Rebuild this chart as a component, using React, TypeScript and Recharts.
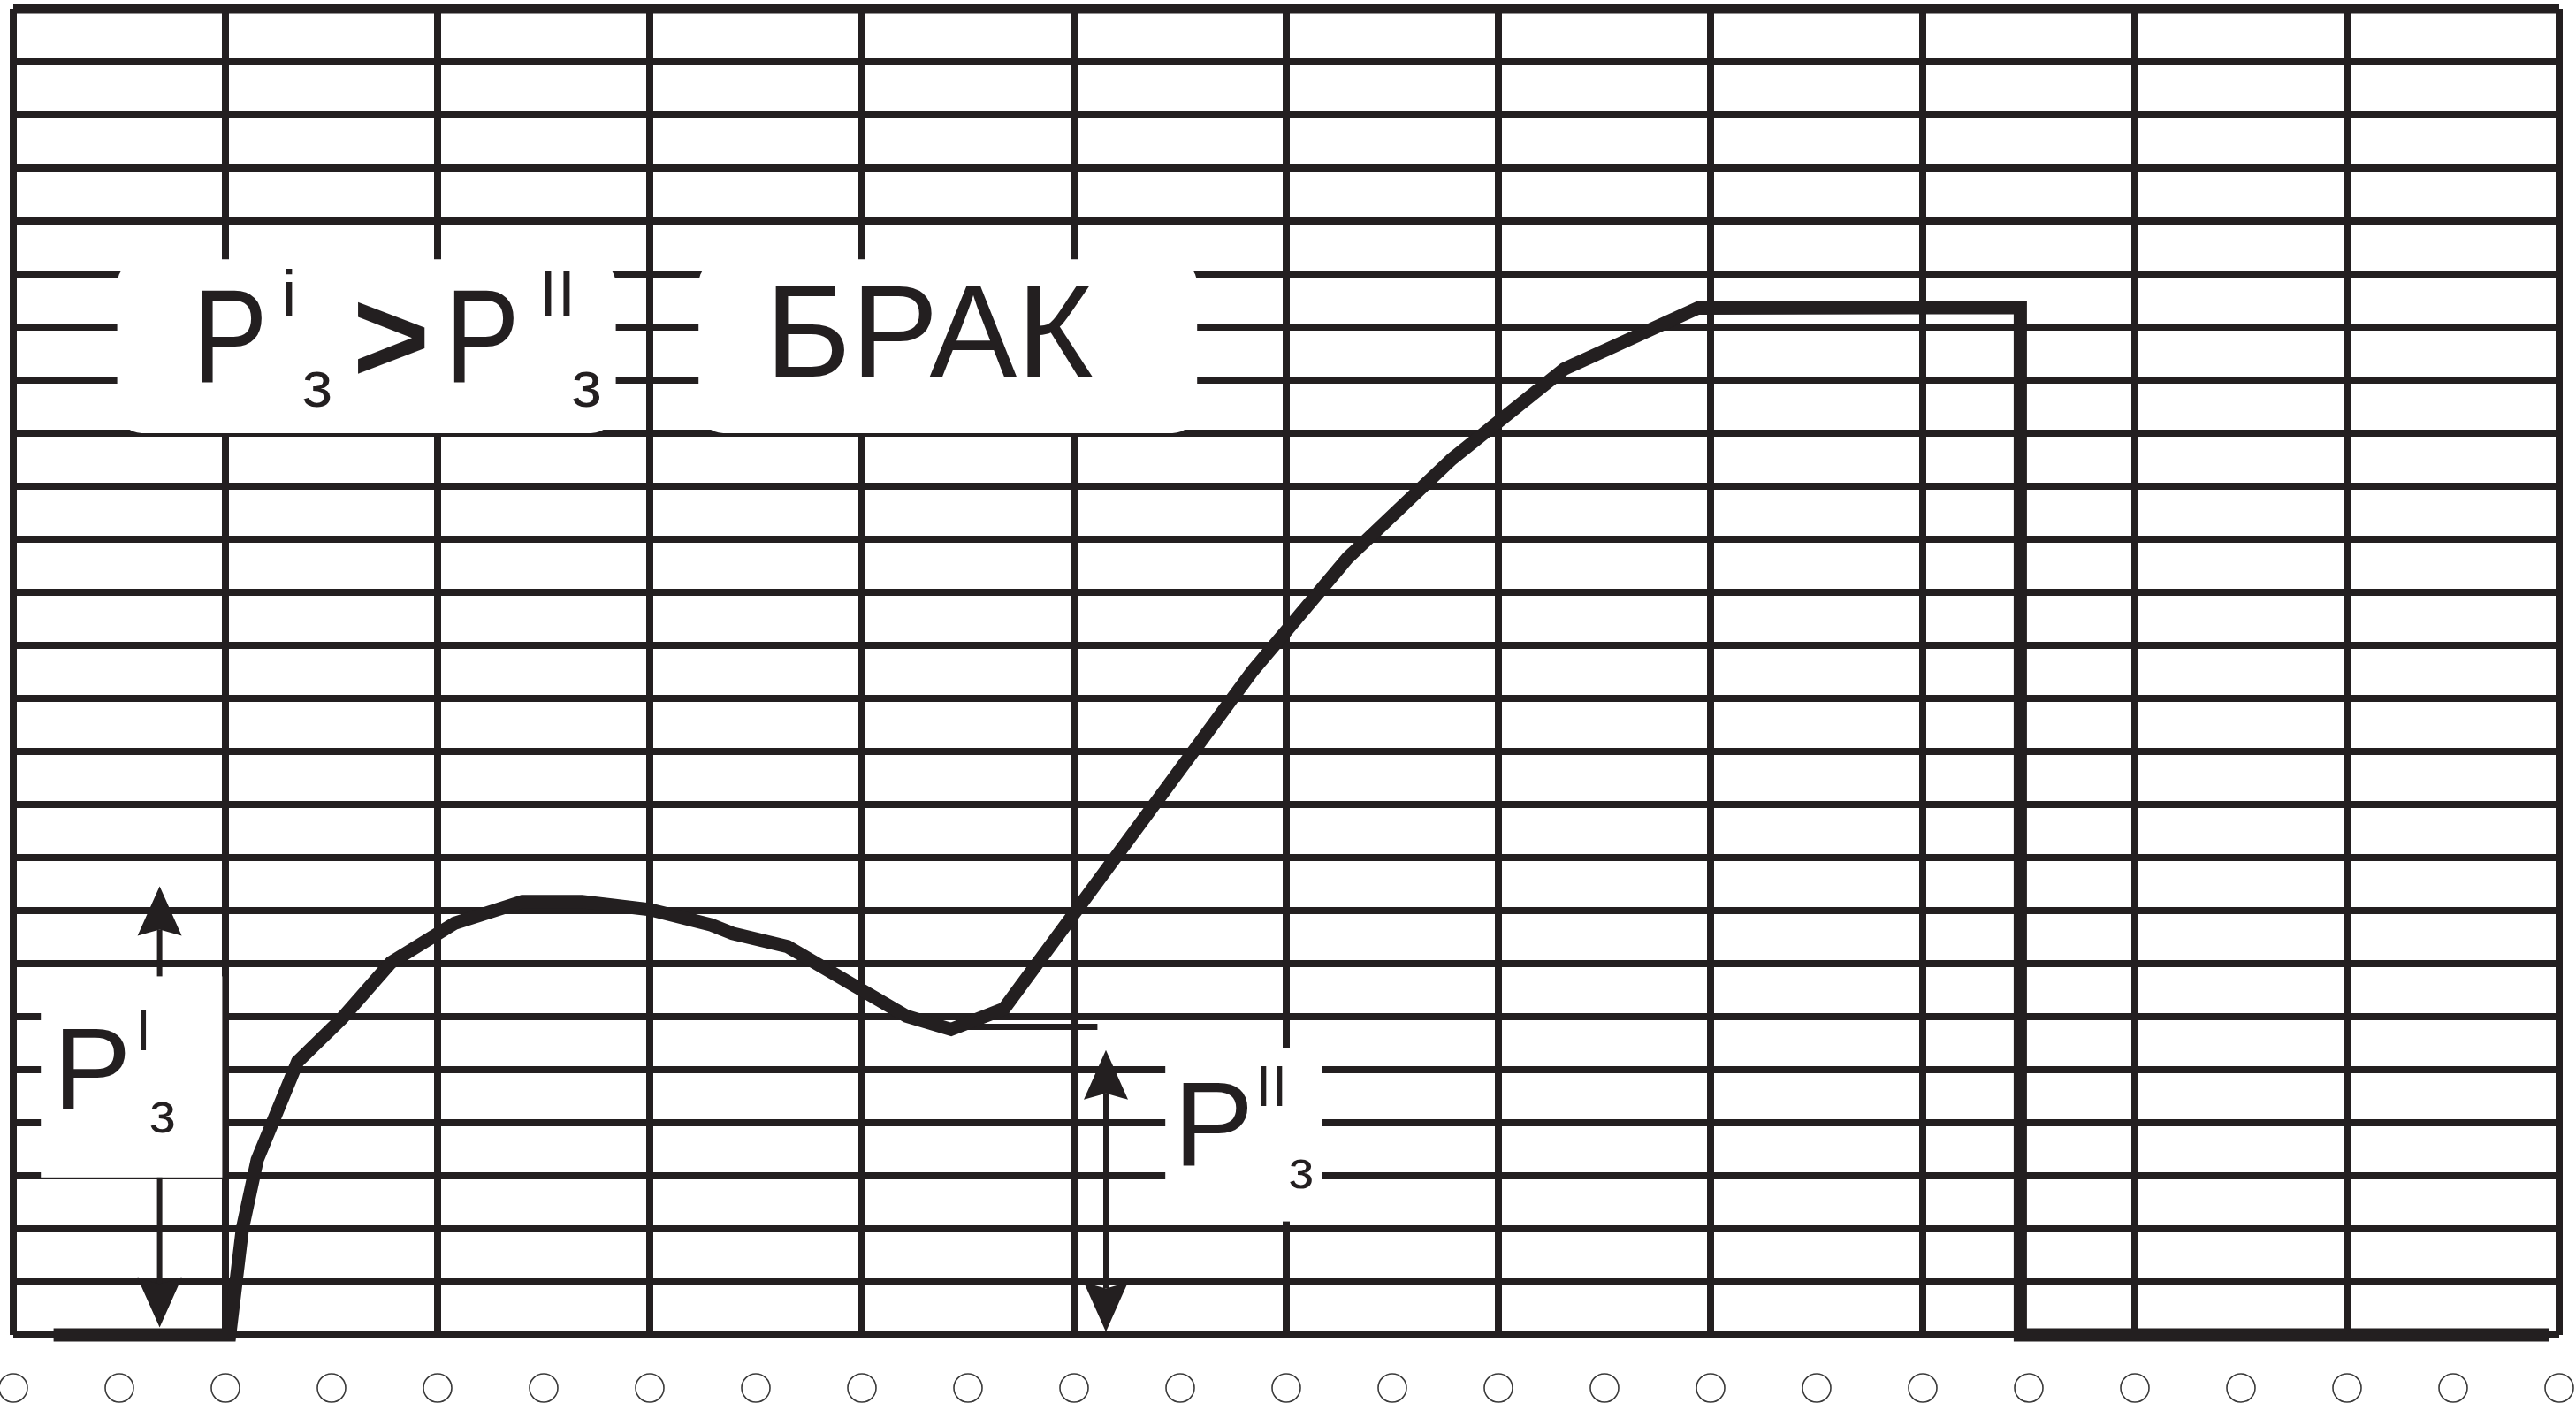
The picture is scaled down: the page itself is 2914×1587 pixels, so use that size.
import { LineChart, Line, XAxis, YAxis, CartesianGrid, ReferenceArea, ReferenceLine } from 'recharts';

// recorder trace, x in chart columns, y in chart rows
const CURVE_X = [0.19, 1.02, 1.08, 1.15, 1.34, 1.55, 1.78, 2.08, 2.4, 2.68, 3.0, 3.29, 3.39, 3.65, 4.21, 4.42, 4.67, 5.84, 6.29, 6.78, 7.31, 7.94, 9.46, 9.46, 11.95];
const CURVE_Y = [0, 0, 2.0, 3.3, 5.15, 5.97, 7.02, 7.76, 8.17, 8.17, 8.02, 7.73, 7.57, 7.32, 6.01, 5.76, 6.15, 12.51, 14.65, 16.51, 18.21, 19.36, 19.37, 0, 0];

// P''з level mark
const LEVEL_X = [4.42, 5.11];
const LEVEL_Y = [5.81, 5.81];

const GRID_COLS = [0, 1, 2, 3, 4, 5, 6, 7, 8, 9, 10, 11, 12];
const GRID_ROWS = [0, 1, 2, 3, 4, 5, 6, 7, 8, 9, 10, 11, 12, 13, 14, 15, 16, 17, 18, 19, 20, 21, 22, 23, 24, 25];
const HOLE_X = [0, 0.5, 1, 1.5, 2, 2.5, 3, 3.5, 4, 4.5, 5, 5.5, 6, 6.5, 7, 7.5, 8, 8.5, 9, 9.5, 10, 10.5, 11, 11.5, 12];

const INK = '#231f20';
const FONT = '"Liberation Sans", Arial, sans-serif';

const curveData = CURVE_X.map((x, i) => ({ x, y: CURVE_Y[i] }));

type Box = { x1: number; x2: number; y1: number; y2: number };
const BOX_RULE: Box = { x1: 0.49, x2: 2.84, y1: 17.0, y2: 20.28 };
const BOX_BRAK: Box = { x1: 3.23, x2: 5.58, y1: 17.0, y2: 20.28 };
const BOX_P1: Box = { x1: 0.13, x2: 0.985, y1: 2.97, y2: 6.76 };
const BOX_P2: Box = { x1: 5.43, x2: 6.17, y1: 2.14, y2: 5.4 };

function mapper(p: any, b: Box) {
  const ux = p.width / (b.x2 - b.x1);
  const uy = p.height / (b.y2 - b.y1);
  return {
    X: (c: number) => p.x + (c - b.x1) * ux,
    Y: (r: number) => p.y + (b.y2 - r) * uy,
  };
}

const T = ({ x, y, size, bold, len, children }: any) => (
  <text
    x={x}
    y={y}
    fontSize={size}
    fontFamily={FONT}
    fontWeight={bold ? 700 : 400}
    fill={INK}
    textLength={len}
    lengthAdjust={len ? 'spacingAndGlyphs' : undefined}
  >
    {children}
  </text>
);

function RuleBox(p: any) {
  const { X, Y } = mapper(p, BOX_RULE);
  return (
    <g>
      <rect x={p.x} y={p.y} width={p.width} height={p.height} rx={28} fill="#fff" />
      <T x={X(0.915) - 16} y={Y(17.96)} size={150} len={84}>P</T>
      <T x={X(1.245) + 5} y={Y(19.2)} size={75}>i</T>
      <T x={X(1.37) - 2} y={Y(17.5)} size={75}>з</T>
      <T x={X(1.62) - 5} y={Y(17.96)} size={150} bold>&gt;</T>
      <T x={X(2.09) - 13} y={Y(17.96)} size={150} len={84}>P</T>
      <T x={X(2.49) - 3} y={Y(19.2)} size={75}>II</T>
      <T x={X(2.64) - 2} y={Y(17.5)} size={75}>з</T>
    </g>
  );
}

function BrakBox(p: any) {
  const { X, Y } = mapper(p, BOX_BRAK);
  return (
    <g>
      <rect x={p.x} y={p.y} width={p.width} height={p.height} rx={28} fill="#fff" />
      <T x={X(3.59) - 11} y={Y(18.07)} size={148}>БРАК</T>
    </g>
  );
}

function P1Box(p: any) {
  const { X, Y } = mapper(p, BOX_P1);
  return (
    <g>
      <rect x={p.x} y={p.y} width={p.width} height={p.height} fill="#fff" />
      <T x={X(0.23) - 10} y={Y(4.26)} size={132}>P</T>
      <T x={X(0.6) - 6} y={Y(5.37)} size={65}>I</T>
      <T x={X(0.65) - 2} y={Y(3.82)} size={65}>з</T>
    </g>
  );
}

function P2Box(p: any) {
  const { X, Y } = mapper(p, BOX_P2);
  return (
    <g>
      <rect x={p.x} y={p.y} width={p.width} height={p.height} fill="#fff" />
      <T x={X(5.51) - 10} y={Y(3.2)} size={136}>P</T>
      <T x={X(5.88) - 6} y={Y(4.31)} size={65}>II</T>
      <T x={X(6.02) - 2} y={Y(2.77)} size={62}>з</T>
    </g>
  );
}

function Arrow({ x1, y1, x2, y2, both }: any) {
  const len = Math.hypot(x2 - x1, y2 - y1) || 1;
  const dx = (x2 - x1) / len;
  const dy = (y2 - y1) / len;
  const L = 56;
  const H = 25;
  const N = 7;
  const head = (tx: number, ty: number, ux: number, uy: number) => {
    const bx = tx - ux * L;
    const by = ty - uy * L;
    const nx = -uy;
    const ny = ux;
    return `M${tx},${ty} L${bx + nx * H},${by + ny * H} L${tx - ux * (L - N)},${ty - uy * (L - N)} L${bx - nx * H},${by - ny * H} Z`;
  };
  const sx = both ? x1 + dx * (L - N) : x1;
  const sy = both ? y1 + dy * (L - N) : y1;
  return (
    <g>
      <line x1={sx} y1={sy} x2={x2 - dx * (L - N)} y2={y2 - dy * (L - N)} stroke={INK} strokeWidth={6} />
      <path d={head(x2, y2, dx, dy)} fill={INK} />
      {both && <path d={head(x1, y1, -dx, -dy)} fill={INK} />}
    </g>
  );
}

const Hole = (props: any) => (
  <ellipse cx={props.x} cy={props.y + 60} rx={16} ry={16} fill="none" stroke="#3a3a3a" strokeWidth={1.6} />
);

export default function App() {
  return (
    <div style={{ position: 'absolute', left: 0, top: 0, background: '#fff' }}>
      <LineChart width={2914} height={1587} data={curveData} margin={{ top: 10, right: 19, bottom: 0, left: 15 }}>
        <CartesianGrid
          horizontalValues={GRID_ROWS}
          verticalValues={GRID_COLS}
          stroke={INK}
          strokeWidth={8}
        />
        <XAxis
          dataKey="x"
          type="number"
          domain={[0, 12]}
          ticks={HOLE_X}
          interval={0}
          axisLine={false}
          tickLine={false}
          tickSize={0}
          tickMargin={0}
          height={77}
          tick={<Hole />}
        />
        <YAxis type="number" domain={[0, 25]} hide />
        <ReferenceLine y={25} stroke={INK} strokeWidth={11} />
        <ReferenceArea x1={BOX_RULE.x1} x2={BOX_RULE.x2} y1={BOX_RULE.y1} y2={BOX_RULE.y2} shape={(p: any) => <RuleBox {...p} />} />
        <ReferenceArea x1={BOX_BRAK.x1} x2={BOX_BRAK.x2} y1={BOX_BRAK.y1} y2={BOX_BRAK.y2} shape={(p: any) => <BrakBox {...p} />} />
        <ReferenceArea x1={BOX_P1.x1} x2={BOX_P1.x2} y1={BOX_P1.y1} y2={BOX_P1.y2} shape={(p: any) => <P1Box {...p} />} />
        <ReferenceArea x1={BOX_P2.x1} x2={BOX_P2.x2} y1={BOX_P2.y1} y2={BOX_P2.y2} shape={(p: any) => <P2Box {...p} />} />
        <ReferenceLine
          segment={[{ x: LEVEL_X[0], y: LEVEL_Y[0] }, { x: LEVEL_X[1], y: LEVEL_Y[1] }]}
          stroke={INK}
          strokeWidth={7}
        />
        <Line
          dataKey="y"
          type="linear"
          stroke={INK}
          strokeWidth={15}
          strokeLinejoin="miter"
          dot={false}
          activeDot={false}
          isAnimationActive={false}
        />
        <ReferenceLine segment={[{ x: 0.69, y: 6.76 }, { x: 0.69, y: 8.46 }]} shape={(p: any) => <Arrow {...p} />} />
        <ReferenceLine segment={[{ x: 0.69, y: 2.97 }, { x: 0.69, y: 0.14 }]} shape={(p: any) => <Arrow {...p} />} />
        <ReferenceLine segment={[{ x: 5.15, y: 5.37 }, { x: 5.15, y: 0.06 }]} shape={(p: any) => <Arrow {...p} both />} />
      </LineChart>
    </div>
  );
}
